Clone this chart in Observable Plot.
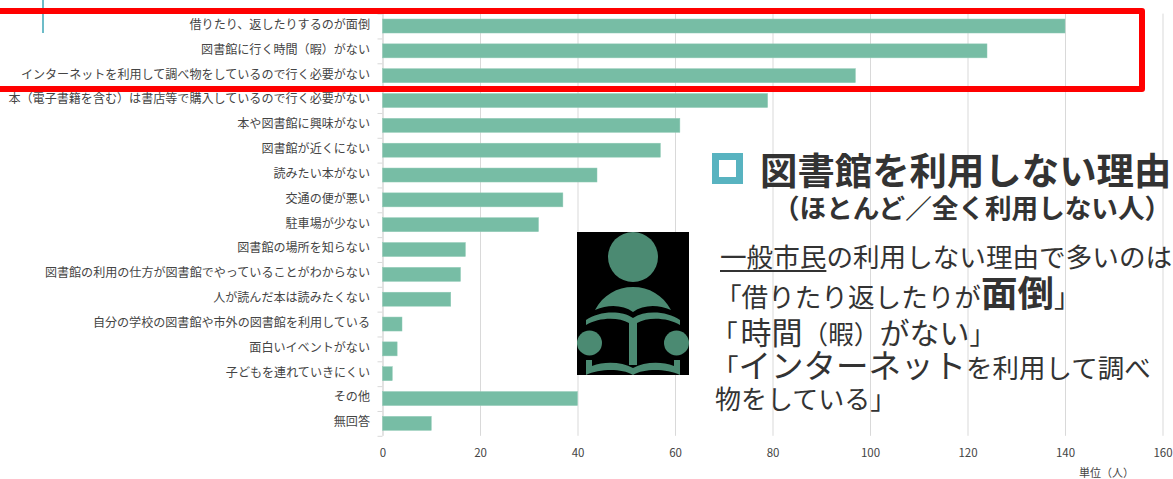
<!DOCTYPE html>
<html lang="ja"><head><meta charset="utf-8">
<script src="https://cdn.jsdelivr.net/npm/d3@7"></script>
<script src="https://cdn.jsdelivr.net/npm/@observablehq/plot@0.6"></script>
<style>
html,body{margin:0;padding:0;background:#fff;overflow:hidden}
#wrap{position:relative;width:1173px;height:479px;overflow:hidden;font-family:"Noto Sans CJK JP",sans-serif;color:#333}
#wrap svg{display:block}
.o{position:absolute;white-space:nowrap;line-height:1;}
.o span,.o b{line-height:0}
</style></head><body><div id="wrap"></div>
<script>
const categories = ["借りたり、返したりするのが面倒","図書館に行く時間（暇）がない","インターネットを利用して調べ物をしているので行く必要がない","本（電子書籍を含む）は書店等で購入しているので行く必要がない","本や図書館に興味がない","図書館が近くにない","読みたい本がない","交通の便が悪い","駐車場が少ない","図書館の場所を知らない","図書館の利用の仕方が図書館でやっていることがわからない","人が読んだ本は読みたくない","自分の学校の図書館や市外の図書館を利用している","面白いイベントがない","子どもを連れていきにくい","その他","無回答"];
const counts = [140,124,97,79,61,57,44,37,32,17,16,14,4,3,2,40,10];
const xTicks = [0,20,40,60,80,100,120,140,160];
const rows = categories.map((c,i)=>({category:c,count:counts[i]}));
const font = '"Noto Sans CJK JP",sans-serif';
const chart = Plot.plot({
  width:1173,height:479,
  marginLeft:382.5,marginRight:10.5,marginTop:13.6,marginBottom:43.2,
  style:{fontFamily:font,fontSize:"12px",color:"#444",background:"transparent"},
  x:{domain:[0,160],label:null},
  y:{domain:categories,paddingInner:0.437,paddingOuter:0.2185,round:false,label:null},
  marks:[
    Plot.gridX(xTicks,{stroke:"#d9d9d9",strokeOpacity:1,strokeWidth:1}),
    Plot.axisX(xTicks,{tickSize:0,tickPadding:13,fontSize:11.5,fill:"#444",label:null}),
    Plot.axisY({tickSize:0,tickPadding:13,fontSize:12.07,fill:"#444",label:null,lineWidth:40,dy:-1.5}),
    Plot.axisY({tickSize:5,text:null,stroke:"#d9d9d9",dy:12.43,label:null}),
    Plot.axisY(categories.slice(0,1),{tickSize:5,text:null,stroke:"#d9d9d9",dy:-12.43,label:null}),
    Plot.ruleX([0],{stroke:"#d9d9d9"}),
    Plot.barX(rows,{y:"category",x:"count",fill:"#77bda5",stroke:"#8fcab6",strokeWidth:0.5}),
    Plot.text(["単位（人）"],{frameAnchor:"bottom-right",lineAnchor:"middle",dx:-29,dy:37,fontSize:11,fill:"#444",textAnchor:"end"})
  ]
});
const wrap = document.getElementById("wrap");
wrap.appendChild(chart);
function add(html,left,cy,size,extra=""){
  const d=document.createElement("div");d.className="o";
  d.style.cssText=`left:${left}px;top:${cy-size/2}px;font-size:${size}px;${extra}`;
  d.innerHTML=html;wrap.appendChild(d);
}
const box=(l,t,w,h,css)=>{const d=document.createElement("div");d.style.cssText=`position:absolute;left:${l}px;top:${t}px;width:${w}px;height:${h}px;box-sizing:border-box;${css}`;wrap.appendChild(d);};
box(42,0,2,33,"background:#6dbcc8");
box(-20,7.5,1165,84,"border:6px solid #ff0000;border-radius:3px");
box(712,153,31,31,"border:7px solid #58b3c0;background:#fff");
add("図書館を利用しない理由",760,170,37.4,"font-weight:700;");
add("（ほとんど／全く利用しない人）",773,207,26.6,"font-weight:700;");
add('<span style="text-decoration:underline;text-underline-offset:3px">一般市民</span>の利用しない理由で多いのは',720,256,26.6);
add('「借りたり返したりが<b style="font-size:36.5px">面倒</b>」',715,296,26.6);
add('「<span style="font-size:31px;margin-left:3px">時間</span>（暇）<span style="font-size:30px">がない</span>」',712,333,25.6);
add('「<span style="font-size:32.5px">インターネット</span>を利用して調べ',712,367,26.5);
add("物をしている」",715,398,26);
const ns=document.createElement("div");
ns.style.cssText="position:absolute;left:577px;top:232px;width:112px;height:143px;background:#000";
ns.innerHTML=`<svg width="112" height="143" viewBox="0 0 112 143">
<g fill="#4b8a72">
<circle cx="56" cy="25" r="25"/>
<path d="M18 78 C26 63 40 55 56 55 C72 55 86 63 94 78 C80 72 66 73 56 80 C46 73 32 72 18 78Z"/>
<path d="M9 88 C22 79 44 78 56 86 C68 78 90 79 103 88 L103 93 C90 85 70 85 60 91 L60 133 L52 133 L52 91 C42 85 22 85 9 93Z"/>
<circle cx="12.500" cy="111" r="12.500"/>
<circle cx="99.500" cy="111" r="12.500"/>
<path d="M9 128 L15 128 L15 134 C28 129 45 130 56 136 C67 130 84 129 97 134 L97 128 L103 128 L103 143 C90 137 68 136 56 143 C44 136 22 137 9 143Z"/>
</g></svg>`;
wrap.appendChild(ns);
</script></body></html>
